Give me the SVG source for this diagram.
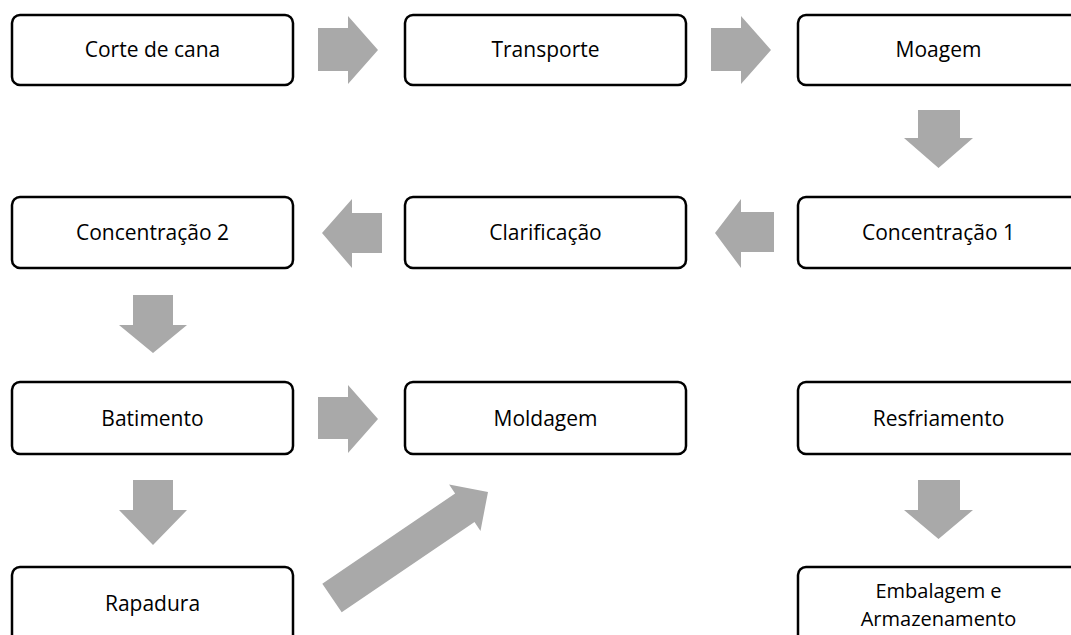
<svg xmlns="http://www.w3.org/2000/svg" width="1071" height="635" viewBox="0 0 1071 635">
<style>
.box{fill:#fff;stroke:#000;stroke-width:2.5}
.t{font-family:"Open Sans",Lato,sans-serif;font-size:21px;fill:#000;text-anchor:middle}
.t2{font-size:20px}
.ar{fill:#a9a9a9}
</style>
<rect width="1071" height="635" fill="#fff"/>
<g id="connectors">
<polygon class="ar" points="318,28 348,28 348,16 378,50 348,84 348,71 318,71"/>
<polygon class="ar" points="711,28 741,28 741,16 771,50 741,84 741,71 711,71"/>
<polygon class="ar" points="918,110 960,110 960,138 973,138 938.5,168 904,138 918,138"/>
<polygon class="ar" points="774,212 741,212 741,199 715,233 741,268 741,252 774,252"/>
<polygon class="ar" points="382,213 352,213 352,199 322,233 352,268 352,253 382,253"/>
<polygon class="ar" points="133,295 173,295 173,325 187,325 153,353 119,325 133,325"/>
<polygon class="ar" points="318,397 348,397 348,385 378,419 348,453 348,439 318,439"/>
<polygon class="ar" points="133,480 173,480 173,510 187,510 153,545 119,510 133,510"/>
<polygon class="ar" points="918,480 960,480 960,510 973,510 938.5,539 904,510 918,510"/>
<polygon class="ar" points="322.3,583.8 455.1,493.5 449.1,484.5 488,492 480.5,530.9 474.5,521.9 341.7,612.2"/>
</g>
<g id="n1"><rect class="box" x="12" y="15" width="281" height="70" rx="8"/><text class="t" x="152.5" y="57">Corte de cana</text></g>
<g id="n2"><rect class="box" x="405" y="15" width="281" height="70" rx="8"/><text class="t" x="545.5" y="57">Transporte</text></g>
<g id="n3"><rect class="box" x="798" y="15" width="281" height="70" rx="8"/><text class="t" x="938.5" y="57">Moagem</text></g>
<g id="n4"><rect class="box" x="798" y="197" width="281" height="71" rx="8"/><text class="t" x="938.5" y="240">Concentração 1</text></g>
<g id="n5"><rect class="box" x="405" y="197" width="281" height="71" rx="8"/><text class="t" x="545.5" y="240">Clarificação</text></g>
<g id="n6"><rect class="box" x="12" y="197" width="281" height="71" rx="8"/><text class="t" x="152.5" y="240">Concentração 2</text></g>
<g id="n7"><rect class="box" x="12" y="382" width="281" height="72" rx="8"/><text class="t" x="152.5" y="426">Batimento</text></g>
<g id="n8"><rect class="box" x="405" y="382" width="281" height="72" rx="8"/><text class="t" x="545.5" y="426">Moldagem</text></g>
<g id="n9"><rect class="box" x="798" y="382" width="281" height="72" rx="8"/><text class="t" x="938.5" y="426">Resfriamento</text></g>
<g id="n10"><rect class="box" x="12" y="567" width="281" height="80" rx="8"/><text class="t" x="152.5" y="611">Rapadura</text></g>
<g id="n11"><rect class="box" x="798" y="567" width="281" height="80" rx="8"/><text class="t t2" x="938.5" y="598">Embalagem e</text><text class="t t2" x="938.5" y="626">Armazenamento</text></g>
</svg>
